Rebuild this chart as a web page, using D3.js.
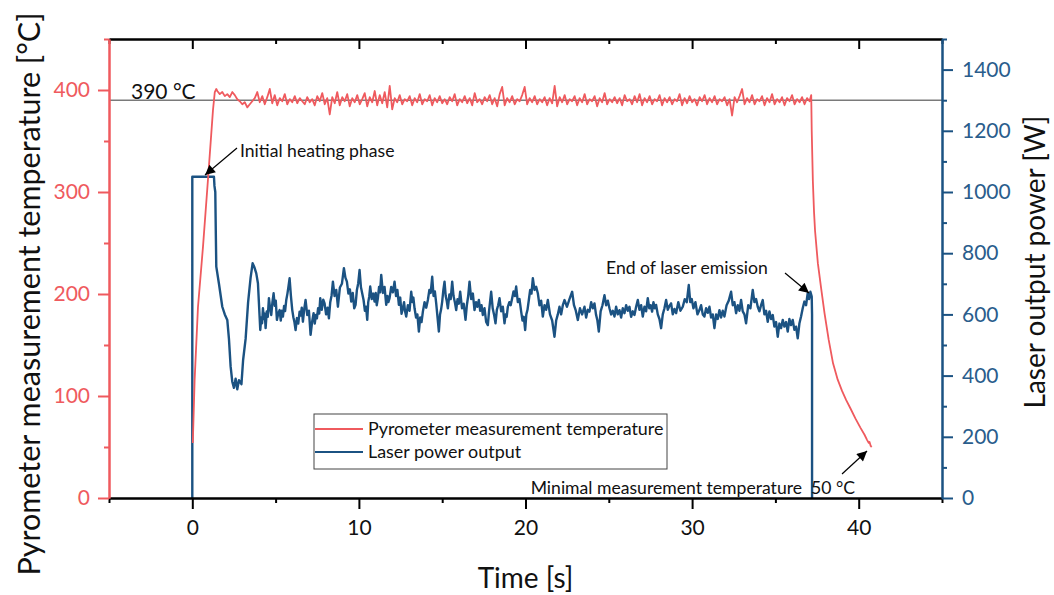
<!DOCTYPE html>
<html>
<head>
<meta charset="utf-8">
<script src="https://cdn.jsdelivr.net/npm/d3@7"></script>
<style>
	body { margin: 0; background: #fff; }
	svg { font-family: Lato, 'Open Sans', sans-serif; }
</style>
</head>
<body>
<script>
// Pyrometer temperature [°C] - heating ramp (time, value)
const heatT = [0.03, 0.14, 0.34, 0.64, 0.94, 1.24, 1.35, 1.44];
const heatV = [54, 116, 187, 246, 312, 380, 398, 401];

// steady phase, sampled every 0.15 s from 1.5 s
const steadyStart = 1.5;
const steadyStep = 0.15;
const steadyV = [
	399, 396, 398, 394, 396, 393, 398, 395, 391, 389, 386, 388, 383, 386, 389, 392, 398, 388, 394, 386,
	393, 401, 387, 395, 385, 392, 389, 396, 386, 391, 388, 394, 387, 392, 389, 386, 393, 388, 391, 385,
	394, 389, 397, 386, 392, 376, 393, 387, 398, 385, 393, 389, 396, 384, 392, 388, 395, 386, 391, 397,
	384, 393, 388, 399, 385, 395, 387, 398, 383, 404, 381, 392, 388, 395, 386, 391, 389, 394, 385, 392,
	388, 396, 386, 391, 389, 395, 385, 392, 388, 394, 387, 391, 386, 393, 389, 396, 385, 391, 388, 394,
	387, 392, 385, 397, 388, 391, 386, 393, 389, 395, 386, 392, 384, 396, 403, 385, 392, 388, 394, 386,
	391, 389, 395, 403, 386, 392, 388, 394, 386, 391, 388, 393, 385, 392, 387, 404, 384, 393, 388, 395,
	386, 391, 389, 394, 385, 392, 388, 396, 386, 391, 389, 394, 384, 392, 388, 397, 386, 391, 388, 393,
	387, 392, 385, 395, 389, 391, 386, 394, 388, 396, 385, 392, 388, 394, 386, 391, 389, 395, 385, 392,
	388, 393, 386, 391, 389, 396, 385, 392, 387, 394, 388, 391, 385, 393, 389, 395, 386, 392, 388, 394,
	386, 391, 389, 393, 385, 391, 375, 393, 388, 394, 401, 386, 392, 388, 395, 386, 391, 389, 394, 385,
	392, 388, 396, 386, 391, 388, 393, 385, 392, 389, 395, 386, 391, 388, 393, 386, 392, 389
];

// cooling after laser switch-off
const coolT = [37.15, 37.18, 37.25, 37.32, 37.38, 37.55, 37.75, 37.95, 38.2, 38.46, 38.74, 39.0, 39.25, 39.5, 39.8, 40.1, 40.35, 40.5, 40.6, 40.65, 40.72, 40.78];
const coolV = [395, 360, 310, 280, 262, 230, 205, 181, 155, 132, 116, 105, 96, 88, 78, 69, 62, 57, 54, 55, 51, 50];

// Laser output power [W] (time, value)
const powerT = [
	0, 0, 1.3, 1.33, 1.38, 1.41, 1.44, 1.6, 1.8, 1.95, 2.1, 2.2, 2.3, 2.4, 2.5, 2.6, 2.7, 2.8, 2.95, 3.05,
	3.2, 3.35, 3.5, 3.62, 3.72, 3.84, 3.94,
	4.08, 4.14, 4.19, 4.24, 4.3, 4.35, 4.4, 4.47, 4.53, 4.6, 4.67, 4.74, 4.81, 4.88, 4.95, 5.01, 5.08, 5.16, 5.24, 5.31,
	5.37, 5.44, 5.51, 5.57, 5.64, 5.71, 5.77, 5.84, 5.92, 6.0, 6.07, 6.13, 6.2, 6.28, 6.36, 6.44, 6.51, 6.57, 6.64, 6.72,
	6.8, 6.9, 7.0, 7.1, 7.19, 7.28, 7.35, 7.42, 7.48, 7.55, 7.62, 7.68, 7.77, 7.86, 7.94, 8.03, 8.12, 8.2, 8.28, 8.36,
	8.44, 8.54, 8.64, 8.74, 8.86, 8.98, 9.1, 9.19, 9.28, 9.37, 9.46, 9.54, 9.63, 9.72, 9.8, 9.88, 9.96, 10.04, 10.12, 10.2,
	10.28, 10.36, 10.43, 10.5, 10.56, 10.62, 10.68, 10.77, 10.86, 10.94, 11.01, 11.07, 11.14, 11.21, 11.27, 11.34, 11.44, 11.54, 11.64, 11.71,
	11.77, 11.84, 11.94, 12.04, 12.14, 12.23, 12.31, 12.4, 12.48, 12.56, 12.64, 12.71, 12.77, 12.84, 12.94, 13.04, 13.14, 13.21, 13.27, 13.34,
	13.43, 13.51, 13.6, 13.68, 13.76, 13.84, 13.94, 14.04, 14.14, 14.23, 14.31, 14.4, 14.48, 14.56, 14.64, 14.72, 14.8, 14.87, 14.93, 15.0,
	15.07, 15.14, 15.21, 15.27, 15.34, 15.43, 15.51, 15.6, 15.68, 15.76, 15.84, 15.92, 16.0, 16.08, 16.19, 16.29, 16.4, 16.48, 16.56, 16.64,
	16.74, 16.84, 16.94, 17.03, 17.11, 17.2, 17.28, 17.36, 17.44, 17.54, 17.64, 17.74, 17.81, 17.87, 17.94, 18.03, 18.11, 18.2, 18.28, 18.36,
	18.44, 18.54, 18.64, 18.74, 18.81, 18.87, 18.94, 19.03, 19.11, 19.2, 19.28, 19.36, 19.44, 19.54, 19.64, 19.74, 19.82, 19.9, 19.98, 20.05,
	20.12, 20.2, 20.28, 20.36, 20.44, 20.54, 20.64, 20.74, 20.84, 20.94, 21.04, 21.14, 21.24, 21.34, 21.47, 21.6, 21.74, 21.84, 21.94, 22.04,
	22.14, 22.24, 22.34, 22.49, 22.64, 22.8, 22.91, 23.02, 23.14, 23.27, 23.4, 23.54, 23.64, 23.74, 23.84, 23.94, 24.04, 24.14, 24.23, 24.31,
	24.4, 24.51, 24.62, 24.74, 24.84, 24.94, 25.04, 25.14, 25.24, 25.34, 25.44, 25.54, 25.64, 25.74, 25.84, 25.94, 26.04, 26.14, 26.24, 26.34,
	26.44, 26.54, 26.64, 26.74, 26.84, 26.94, 27.04, 27.14, 27.24, 27.34, 27.43, 27.51, 27.6, 27.68, 27.76, 27.84, 27.94, 28.04, 28.14, 28.24,
	28.34, 28.44, 28.54, 28.64, 28.74, 28.84, 28.94, 29.04, 29.17, 29.3, 29.44, 29.56, 29.68, 29.8, 29.89, 29.98, 30.08, 30.2, 30.32, 30.44,
	30.54, 30.64, 30.74, 30.84, 30.94, 31.04, 31.14, 31.24, 31.34, 31.44, 31.54, 31.64, 31.74, 31.84, 31.94, 32.07, 32.2, 32.34, 32.44, 32.54,
	32.64, 32.74, 32.84, 32.94, 33.04, 33.14, 33.24, 33.37, 33.5, 33.64, 33.74, 33.84, 33.94, 34.04, 34.14, 34.24, 34.34, 34.44, 34.54, 34.64,
	34.74, 34.84, 34.94, 35.04, 35.14, 35.24, 35.34, 35.44, 35.54, 35.64, 35.74, 35.84, 35.94, 36.04, 36.14, 36.24, 36.34, 36.44, 36.54, 36.64,
	36.74, 36.84, 36.94, 37.02, 37.1, 37.18, 37.2, 37.2
];
const powerV = [
	0, 1050, 1050, 1020, 1000, 870, 756, 700, 625, 600, 582, 520, 430, 380, 360, 390, 355, 385, 372, 451,
	520, 640, 720, 767, 755, 734, 702,
	549, 590, 571, 620, 585, 602, 555, 610, 592, 653, 620, 598, 640, 669, 628, 645, 582, 603, 614, 580,
	612, 593, 628, 611, 647, 668, 690, 718, 660, 614, 590, 575, 549, 588, 570, 609, 596, 622, 576, 618,
	647, 598, 612, 533, 575, 604, 570, 598, 587, 620, 603, 653, 615, 648, 636, 600, 622, 587, 640, 662,
	707, 660, 680, 625, 688, 700, 751, 720, 707, 668, 682, 642, 670, 620, 631, 680, 702, 745, 690, 668,
	647, 612, 625, 582, 640, 658, 691, 650, 668, 642, 670, 630, 653, 690, 672, 729, 670, 690, 631, 660,
	640, 653, 690, 672, 707, 660, 680, 631, 655, 602, 620, 640, 610, 593, 630, 612, 674, 640, 655, 620,
	590, 600, 544, 590, 575, 609, 640, 622, 647, 680, 670, 723, 660, 675, 636, 590, 544, 600, 615, 642,
	680, 707, 660, 645, 620, 665, 650, 707, 660, 640, 614, 650, 635, 674, 620, 635, 582, 630, 660, 707,
	650, 668, 614, 640, 625, 647, 612, 630, 598, 620, 575, 565, 610, 640, 674, 620, 600, 571, 615, 630,
	653, 610, 625, 571, 600, 592, 625, 640, 630, 653, 675, 660, 691, 640, 650, 609, 580, 592, 549, 600,
	615, 647, 680, 668, 718, 680, 690, 669, 630, 645, 593, 630, 615, 647, 600, 580, 527, 580, 600, 625,
	600, 630, 647, 625, 650, 674, 630, 612, 582, 620, 600, 625, 590, 615, 609, 640, 620, 636, 600, 582,
	544, 610, 630, 663, 630, 645, 620, 600, 612, 593, 625, 600, 614, 590, 620, 604, 630, 612, 625, 592,
	610, 598, 625, 647, 615, 630, 593, 625, 610, 653, 620, 630, 609, 640, 620, 631, 600, 585, 555, 600,
	620, 647, 615, 628, 636, 600, 618, 604, 640, 612, 625, 650, 640, 696, 640, 650, 620, 640, 600, 614,
	630, 600, 593, 620, 605, 625, 590, 600, 555, 600, 585, 614, 590, 612, 593, 630, 645, 674, 630, 640,
	604, 630, 612, 647, 610, 600, 571, 630, 620, 680, 640, 650, 625, 610, 630, 647, 600, 612, 576, 610,
	585, 598, 560, 575, 527, 570, 555, 582, 560, 575, 544, 585, 565, 582, 550, 560, 522, 570, 593, 620,
	642, 630, 669, 650, 674, 658, 600, 0
];

const xTicks = [0, 10, 20, 30, 40];
const xMinor = [-5, 5, 15, 25, 35, 45];
const tempTicks = [0, 100, 200, 300, 400];
const tempMinor = [50, 150, 250, 350, 450];
const powerTicks = [0, 200, 400, 600, 800, 1000, 1200, 1400];
const powerMinor = [100, 300, 500, 700, 900, 1100, 1300, 1500];
const setPoint = 390;

const red = '#ef5a5e';
const blue = '#1b5282';

const width = 1054;
const height = 595;
const m = {left: 109, right: 942, top: 39, bottom: 498};

const svg = d3.select('body').append('svg').attr('width', width).attr('height', height);

const x = d3.scaleLinear().domain([-5, 45]).range([m.left, m.right]);
const yT = d3.scaleLinear().domain([0, 450]).range([m.bottom, m.top]);
const yP = d3.scaleLinear().domain([0, 1500]).range([m.bottom, m.top]);

// build series
const tempData = [];
heatT.forEach((t, i) => tempData.push([t, heatV[i]]));
steadyV.forEach((v, i) => tempData.push([steadyStart + i * steadyStep, v]));
coolT.forEach((t, i) => tempData.push([t, coolV[i]]));
const powerData = powerT.map((t, i) => [t, powerV[i]]);

// set point line
svg.append('line')
	.attr('x1', m.left).attr('x2', m.right)
	.attr('y1', yT(setPoint)).attr('y2', yT(setPoint))
	.attr('stroke', '#7a7a7a').attr('stroke-width', 1.5);
svg.append('text')
	.attr('x', 131).attr('y', yT(setPoint) - 1)
	.attr('font-size', 21).attr('fill', '#111')
	.text('390 °C');

// curves
svg.append('path')
	.datum(powerData)
	.attr('fill', 'none')
	.attr('stroke', blue)
	.attr('stroke-width', 2.4)
	.attr('stroke-linejoin', 'round')
	.attr('d', d3.line().x((d) => x(d[0])).y((d) => yP(d[1])));

svg.append('path')
	.datum(tempData)
	.attr('fill', 'none')
	.attr('stroke', red)
	.attr('stroke-width', 1.8)
	.attr('stroke-linejoin', 'round')
	.attr('d', d3.line().x((d) => x(d[0])).y((d) => yT(d[1])));

// axes
function styleAxis(g, colour, fs) {
	g.selectAll('path').attr('stroke', colour).attr('stroke-width', 2);
	g.selectAll('line').attr('stroke', colour).attr('stroke-width', 2);
	g.selectAll('text').attr('fill', colour).attr('font-size', fs).attr('font-family', 'Lato, sans-serif');
}

const bottomAxis = svg.append('g').attr('transform', `translate(0,${m.bottom})`)
	.call(d3.axisBottom(x).tickValues(xTicks).tickSize(11).tickSizeOuter(0).tickPadding(11));
styleAxis(bottomAxis, '#000', 21);
bottomAxis.selectAll('text').attr('fill', '#111');
const bottomMinor = svg.append('g').attr('transform', `translate(0,${m.bottom})`)
	.call(d3.axisBottom(x).tickValues(xMinor).tickSize(5).tickSizeOuter(0).tickFormat(''));
styleAxis(bottomMinor, '#000', 0);

const topAxis = svg.append('g').attr('transform', `translate(0,${m.top})`)
	.call(d3.axisTop(x).tickValues(xTicks).tickSize(-10).tickSizeOuter(0).tickFormat(''));
styleAxis(topAxis, '#000', 0);
const topMinor = svg.append('g').attr('transform', `translate(0,${m.top})`)
	.call(d3.axisTop(x).tickValues(xMinor).tickSize(-5).tickSizeOuter(0).tickFormat(''));
styleAxis(topMinor, '#000', 0);

const leftAxis = svg.append('g').attr('transform', `translate(${m.left},0)`)
	.call(d3.axisLeft(yT).tickValues(tempTicks).tickSize(11).tickSizeOuter(0).tickPadding(8));
styleAxis(leftAxis, red, 21);
const leftMinor = svg.append('g').attr('transform', `translate(${m.left},0)`)
	.call(d3.axisLeft(yT).tickValues(tempMinor).tickSize(5).tickSizeOuter(0).tickFormat(''));
styleAxis(leftMinor, red, 0);

const rightAxis = svg.append('g').attr('transform', `translate(${m.right},0)`)
	.call(d3.axisRight(yP).tickValues(powerTicks).tickSize(11).tickSizeOuter(0).tickPadding(9).tickFormat(d3.format('d')));
styleAxis(rightAxis, blue, 21);
rightAxis.selectAll('text').attr('fill', '#2a5d8c');
const rightMinor = svg.append('g').attr('transform', `translate(${m.right},0)`)
	.call(d3.axisRight(yP).tickValues(powerMinor).tickSize(5).tickSizeOuter(0).tickFormat(''));
styleAxis(rightMinor, blue, 0);

// axis titles
svg.append('text')
	.attr('x', (m.left + m.right) / 2).attr('y', 588)
	.attr('text-anchor', 'middle').attr('font-size', 28).attr('fill', '#111')
	.text('Time [s]');
svg.append('text')
	.attr('transform', 'translate(40,294) rotate(-90)')
	.attr('text-anchor', 'middle').attr('font-size', 30.5).attr('fill', '#111')
	.text('Pyrometer measurement temperature [°C]');
svg.append('text')
	.attr('transform', 'translate(1045,262) rotate(-90)')
	.attr('text-anchor', 'middle').attr('font-size', 28).attr('fill', '#111')
	.text('Laser output power [W]');

// annotations
svg.append('defs').append('marker')
	.attr('id', 'arrow')
	.attr('viewBox', '0 0 10 10')
	.attr('refX', 10).attr('refY', 5)
	.attr('markerWidth', 14).attr('markerHeight', 10)
	.attr('markerUnits', 'userSpaceOnUse')
	.attr('orient', 'auto')
	.append('path').attr('d', 'M0,0 L10,5 L0,10 Z').attr('fill', '#000');

const notes = [
	{text: 'Initial heating phase', tx: 240, ty: 157, anchor: 'start', from: [237, 148], to: [205, 175]},
	{text: 'End of laser emission', tx: 606, ty: 274, anchor: 'start', from: [785, 273], to: [809, 293]},
	{text: 'Minimal measurement temperature  50 °C', tx: 855, ty: 494, anchor: 'end', from: [842, 474], to: [867, 451]}
];
notes.forEach((n) => {
	svg.append('line')
		.attr('x1', n.from[0]).attr('y1', n.from[1])
		.attr('x2', n.to[0]).attr('y2', n.to[1])
		.attr('stroke', '#000').attr('stroke-width', 1.2)
		.attr('marker-end', 'url(#arrow)');
	svg.append('text')
		.attr('x', n.tx).attr('y', n.ty)
		.attr('text-anchor', n.anchor)
		.attr('font-size', 17.6).attr('fill', '#111')
		.attr('xml:space', 'preserve')
		.text(n.text);
});

// legend
const legend = svg.append('g');
legend.append('rect')
	.attr('x', 314).attr('y', 414).attr('width', 353).attr('height', 55)
	.attr('fill', '#fff').attr('stroke', '#444').attr('stroke-width', 1);
const items = [
	{label: 'Pyrometer measurement temperature', colour: red, y: 429},
	{label: 'Laser power output', colour: blue, y: 452}
];
items.forEach((it) => {
	legend.append('line')
		.attr('x1', 315).attr('x2', 363).attr('y1', it.y).attr('y2', it.y)
		.attr('stroke', it.colour).attr('stroke-width', 2);
	legend.append('text')
		.attr('x', 368).attr('y', it.y + 6)
		.attr('font-size', 17.9).attr('fill', '#111')
		.text(it.label);
});
</script>
</body>
</html>
